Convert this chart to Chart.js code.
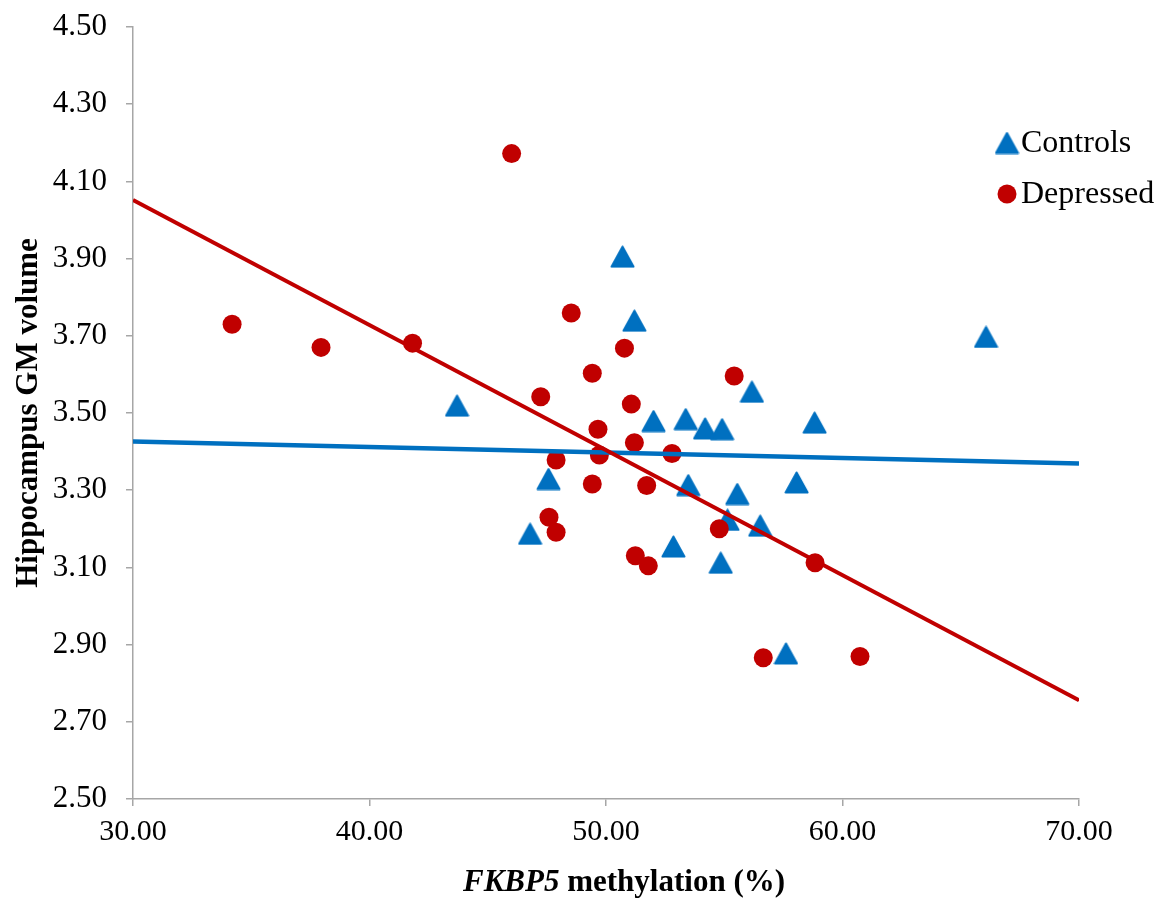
<!DOCTYPE html>
<html>
<head>
<meta charset="utf-8">
<script src="https://cdn.jsdelivr.net/npm/chart.js@4.4.1/dist/chart.umd.min.js"></script>
<style>
  html, body { margin: 0; padding: 0; background: #fff; }
</style>
</head>
<body>
<canvas id="chart" width="1159" height="909"></canvas>
<script>
// values
const controlsX = [43.70, 50.70, 51.20, 66.07, 56.17, 53.37, 54.19, 54.91, 58.82, 52.01,
                   53.48, 55.55, 58.06, 55.14, 56.52, 52.85, 54.85, 57.61, 47.57, 46.79];
const controlsY = [3.519, 3.905, 3.739, 3.697, 3.555, 3.484, 3.460, 3.458, 3.475, 3.479,
                   3.313, 3.290, 3.320, 3.223, 3.208, 3.154, 3.112, 2.877, 3.329, 3.187];

const depressedX = [34.19, 37.95, 41.82, 46.01, 48.53, 50.78, 49.42, 47.24, 51.07, 49.66,
                    51.20, 49.72, 52.79, 47.89, 49.42, 51.72, 47.59, 47.89, 51.24, 51.79,
                    55.42, 54.79, 58.84, 56.65, 60.74];
const depressedY = [3.730, 3.670, 3.681, 4.172, 3.759, 3.668, 3.603, 3.542, 3.523, 3.458,
                    3.423, 3.391, 3.395, 3.378, 3.316, 3.312, 3.230, 3.191, 3.130, 3.104,
                    3.596, 3.200, 3.112, 2.866, 2.869];

// fitted trend lines (end points)
const trendX = [30, 70];
const controlsTrendY = [3.426, 3.369];
const depressedTrendY = [4.052, 2.756];

const xTicks = [30, 40, 50, 60, 70];
const yTicks = [2.5, 2.7, 2.9, 3.1, 3.3, 3.5, 3.7, 3.9, 4.1, 4.3, 4.5];

const BLUE = '#0070C0';
const RED = '#C00000';
const AXIS = '#A6A6A6';
const SERIF = "'Liberation Serif', 'Times New Roman', serif";

const pts = (xs, ys) => xs.map((x, i) => ({ x: x, y: ys[i] }));

// rounded triangle marker like the office one
function makeTriangle() {
  const c = document.createElement('canvas');
  c.width = 25;
  c.height = 23;
  const g = c.getContext('2d');
  g.fillStyle = BLUE;
  g.strokeStyle = BLUE;
  g.lineWidth = 2;
  g.lineJoin = 'round';
  g.beginPath();
  g.moveTo(12.5, 1.5);
  g.lineTo(23.5, 21.5);
  g.lineTo(1.5, 21.5);
  g.closePath();
  g.fill();
  g.stroke();
  return c;
}
const triangle = makeTriangle();

const legendItems = [
  { label: 'Controls', y: 143, style: 'tri' },
  { label: 'Depressed', y: 194, style: 'dot' },
];

const insideLegend = {
  id: 'insideLegend',
  afterDraw(chart) {
    const ctx = chart.ctx;
    ctx.save();
    ctx.font = '32px ' + SERIF;
    ctx.textBaseline = 'middle';
    legendItems.forEach(item => {
      if (item.style === 'tri') {
        ctx.drawImage(triangle, 1007 - 12.5, item.y - 11.5);
      } else {
        ctx.fillStyle = RED;
        ctx.beginPath();
        ctx.arc(1007, item.y, 9.5, 0, Math.PI * 2);
        ctx.fill();
      }
      ctx.fillStyle = '#000';
      ctx.fillText(item.label, 1021, item.y + 1);
    });
    ctx.restore();
  }
};

// x title has an italic gene name, so it is drawn by hand
const xTitle = {
  id: 'xTitle',
  afterDraw(chart) {
    const ctx = chart.ctx;
    const gene = 'FKBP5';
    const rest = ' methylation (%)';
    ctx.save();
    ctx.fillStyle = '#000';
    ctx.textBaseline = 'middle';
    ctx.font = 'italic bold 31px ' + SERIF;
    const w1 = ctx.measureText(gene).width;
    ctx.font = 'bold 31px ' + SERIF;
    const w2 = ctx.measureText(rest).width;
    const cx = 624;
    const x0 = cx - (w1 + w2) / 2;
    const y = 883;
    ctx.font = 'italic bold 31px ' + SERIF;
    ctx.fillText(gene, x0, y);
    ctx.font = 'bold 31px ' + SERIF;
    ctx.fillText(rest, x0 + w1, y);
    ctx.restore();
  }
};

const ctx = document.getElementById('chart').getContext('2d');
new Chart(ctx, {
  type: 'scatter',
  data: {
    datasets: [
      {
        label: 'Depressed trend',
        type: 'line',
        data: pts(trendX, depressedTrendY),
        borderColor: RED,
        borderWidth: 4,
        pointRadius: 0,
        order: 0,
      },
      {
        label: 'Controls trend',
        type: 'line',
        data: pts(trendX, controlsTrendY),
        borderColor: BLUE,
        borderWidth: 4.5,
        pointRadius: 0,
        order: 1,
      },
      {
        label: 'Depressed',
        data: pts(depressedX, depressedY),
        pointStyle: 'circle',
        pointRadius: 9.5,
        pointBackgroundColor: RED,
        pointBorderWidth: 0,
        order: 2,
      },
      {
        label: 'Controls',
        data: pts(controlsX, controlsY),
        pointStyle: triangle,
        order: 3,
      },
    ],
  },
  options: {
    responsive: false,
    animation: false,
    events: [],
    layout: { padding: { top: 27, right: 80, left: 0, bottom: 0 } },
    plugins: {
      legend: { display: false },
      tooltip: { enabled: false },
    },
    scales: {
      x: {
        type: 'linear',
        min: 30,
        max: 70,
        afterBuildTicks: scale => { scale.ticks = xTicks.map(v => ({ value: v })); },
        afterFit: scale => {
          scale.height = 110;
          scale.paddingLeft = 0;
          scale.paddingRight = 0;
        },
        ticks: {
          color: '#000',
          font: { family: SERIF, size: 30 },
          padding: 8,
          callback: v => Number(v).toFixed(2),
        },
        grid: { drawOnChartArea: false, color: AXIS, tickLength: 7, lineWidth: 1.5 },
        border: { color: AXIS, width: 1.5 },
      },
      y: {
        type: 'linear',
        min: 2.5,
        max: 4.5,
        afterBuildTicks: scale => { scale.ticks = yTicks.map(v => ({ value: v })); },
        afterFit: scale => {
          scale.width = 133;
          scale.paddingTop = 0;
          scale.paddingBottom = 0;
        },
        ticks: {
          color: '#000',
          font: { family: SERIF, size: 31 },
          padding: 19,
          callback: v => Number(v).toFixed(2),
        },
        grid: { drawOnChartArea: false, color: AXIS, tickLength: 7, lineWidth: 1.5 },
        border: { color: AXIS, width: 1.5 },
        title: {
          display: true,
          text: 'Hippocampus GM volume',
          color: '#000',
          font: { family: SERIF, size: 31, weight: 'bold' },
          padding: { top: 10, bottom: 0 },
        },
      },
    },
  },
  plugins: [insideLegend, xTitle],
});
</script>
</body>
</html>
